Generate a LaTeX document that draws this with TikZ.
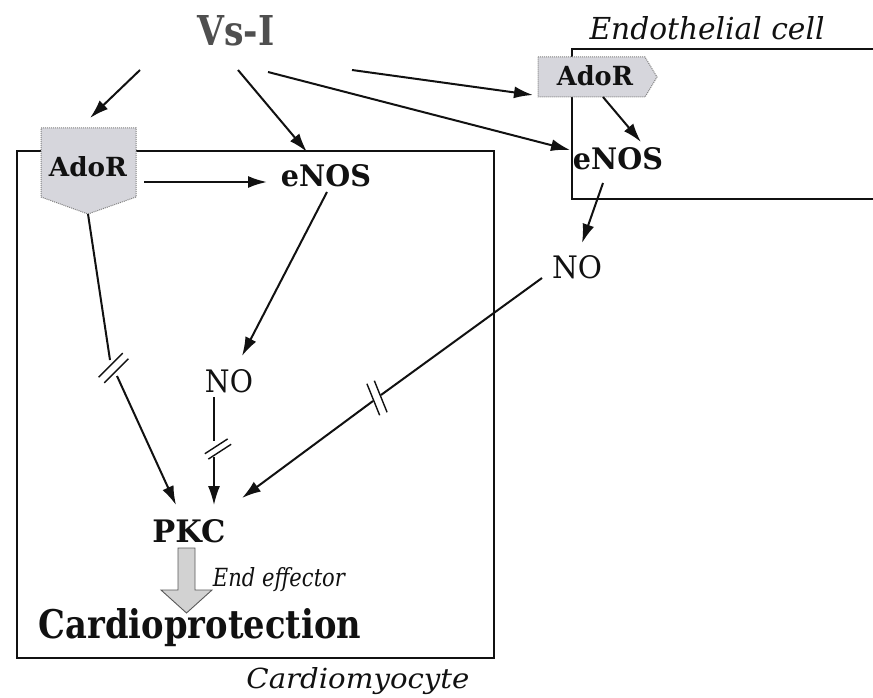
\documentclass[tikz,border=0pt]{standalone}
\usepackage{fontspec}
\setmainfont{DejaVu Serif}
\usetikzlibrary{arrows.meta}
\definecolor{vsgray}{HTML}{4F4F4F}
\definecolor{recfill}{HTML}{D6D6DC}
\definecolor{arrfill}{HTML}{D2D2D2}
\definecolor{ink}{HTML}{111111}
\newcommand{\fitwh}[3]{\resizebox{#1}{#2}{#3}}
\begin{document}
\begin{tikzpicture}[x=1pt,y=-1pt,
  arr/.style={ink,line width=2pt,-{Latex[length=19pt,width=12pt]}},
  ln/.style={ink,line width=2pt},
  thinarr/.style={ink,line width=1.5pt,-{Latex[length=19pt,width=12pt]}},
  thinln/.style={ink,line width=1.5pt},
  cellbox/.style={ink,line width=1.8pt},
  receptor/.style={fill=recfill,draw=gray,line width=1pt,densely dotted},
  brk/.pic={\draw[ink,line width=1.4pt] (-4,-17)--(-4,17) (4,-17)--(4,17);},
  lbl/.style={inner sep=0pt,anchor=base,text=ink},
]
\useasboundingbox (0,0) rectangle (873,698);
\fill[white] (0,0) rectangle (873,698);

% cells
\draw[cellbox] (17,151) rectangle (494,658);
\draw[cellbox] (873,49) -- (572,49) -- (572,199) -- (873,199);

% receptors
\draw[receptor] (41,128) -- (136,128) -- (136,197) -- (88,214) -- (41,197) -- cycle;
\draw[receptor] (538,57) -- (645,57) -- (657,77) -- (645,97) -- (538,97) -- cycle;

% labels
\node[lbl,text=vsgray,font=\bfseries] (vsi) at (236,46) {\fitwh{77pt}{30pt}{Vs-I}};
\node[lbl,font=\bfseries] (adorL) at (88,176) {\fitwh{78pt}{20pt}{AdoR}};
\node[lbl,font=\bfseries] (enosL) at (326,187) {\fitwh{90pt}{22pt}{eNOS}};
\node[lbl,font=\bfseries] (adorR) at (595,86) {\fitwh{76pt}{20pt}{AdoR}};
\node[lbl,font=\bfseries] (enosR) at (618,170) {\fitwh{90pt}{22pt}{eNOS}};
\node[lbl] (noR) at (577,278) {\fitwh{50pt}{23pt}{NO}};
\node[lbl] (noM) at (229,392) {\fitwh{48pt}{23pt}{NO}};
\node[lbl,font=\bfseries] (pkc) at (189,542) {\fitwh{73pt}{23pt}{PKC}};
\node[lbl,font=\bfseries] (cardio) at (200,638) {\fitwh{322pt}{30pt}{Cardioprotection}};
\node[lbl,font=\itshape] (endeff) at (279,586) {\fitwh{132pt}{19pt}{End effector}};
\node[lbl,font=\itshape] (endo) at (707,40) {\fitwh{235pt}{23pt}{Endothelial cell}};
\node[lbl,font=\itshape] (cmyo) at (358,688) {\fitwh{223pt}{21pt}{Cardiomyocyte}};

% connector end points
\coordinate (s1) at (140,70);
\coordinate (s2) at (238,70);
\coordinate (s3) at (268,72);
\coordinate (s4) at (352,70);
\coordinate (t1) at (90,118);
\coordinate (t2) at (307,152);
\coordinate (t3) at (570,150);
\coordinate (t4) at (533,95);
\coordinate (aLout) at (144,182);
\coordinate (eLin) at (267,182);
\coordinate (eLout) at (327,192);
\coordinate (nMin) at (242,356);
\coordinate (aRout) at (603,97);
\coordinate (eRin) at (641,142);
\coordinate (eRout) at (603,183);
\coordinate (nRin) at (582,243);
\coordinate (aLtip) at (88,214);
\coordinate (b1a) at (110,360);
\coordinate (b1b) at (117,376);
\coordinate (b1c) at (113.5,368);
\coordinate (p1) at (176,505);
\coordinate (nMout) at (214,397);
\coordinate (b2a) at (214,441);
\coordinate (b2b) at (214,457);
\coordinate (b2c) at (218,449);
\coordinate (p2) at (214,505);
\coordinate (nRout) at (542,278);
\coordinate (b3a) at (381,395);
\coordinate (b3b) at (373,401);
\coordinate (b3c) at (377,398);
\coordinate (p3) at (242,498);

% arrows from Vs-I
\draw[arr] (s1) -- (t1);
\draw[arr] (s2) -- (t2);
\draw[arr] (s3) -- (t3);
\draw[arr] (s4) -- (t4);

% cardiomyocyte pathway
\draw[arr] (aLout) -- (eLin);
\draw[arr] (eLout) -- (nMin);
\draw[ln] (aLtip) -- (b1a);
\pic[rotate=-45] at (b1c) {brk};
\draw[arr] (b1b) -- (p1);
\draw[thinln] (nMout) -- (b2a);
\pic[rotate=-57,scale=0.8] at (b2c) {brk};
\draw[thinarr] (b2b) -- (p2);

% endothelial pathway
\draw[arr] (aRout) -- (eRin);
\draw[arr] (eRout) -- (nRin);
\draw[ln] (nRout) -- (b3a);
\pic[rotate=22] at (b3c) {brk};
\draw[arr] (b3b) -- (p3);

% end effector block arrow
\draw[fill=arrfill,draw=gray!70!black,line width=0.9pt]
  (178,548) -- (195,548) -- (195,590) -- (212,590) -- (186.5,613) -- (161,590) -- (178,590) -- cycle;
\end{tikzpicture}
\end{document}
